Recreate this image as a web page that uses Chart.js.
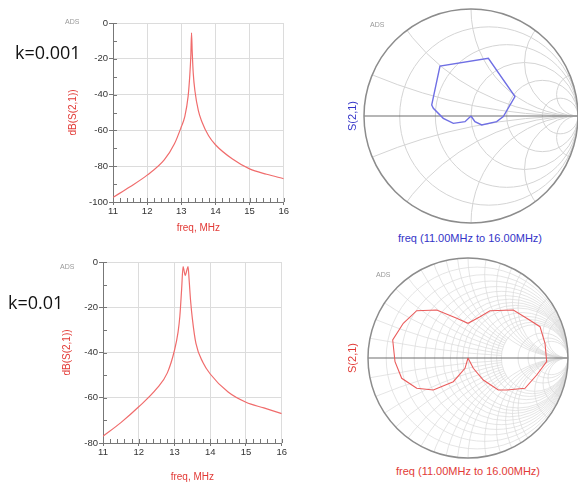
<!DOCTYPE html>
<html>
<head>
<meta charset="utf-8">
<script src="https://cdn.jsdelivr.net/npm/chart.js@4"></script>
<style>
  html, body { margin: 0; padding: 0; overflow: hidden; background: #fff; }
  #page { position: relative; width: 578px; height: 482px; }
  canvas { position: absolute; }
  .lbl { position: absolute; white-space: nowrap; font-family: "Liberation Sans", Arial, sans-serif; }
  .k { font-family: "Open Sans", sans-serif; font-size: 18px; color: #111; line-height: 24px; }
  .ads { font-size: 7px; color: #999; }
  .s21 { font-size: 11px; transform: translate(-50%, -50%) rotate(-90deg); }
  .sweep { font-size: 11px; transform: translateX(-50%); }
</style>
</head>
<body>
<div id="page">
  <canvas id="dbLow" width="230" height="219" style="left:60px; top:15px"></canvas>
  <canvas id="smithLow" width="218" height="218" style="left:362px; top:7px"></canvas>
  <canvas id="dbHigh" width="238" height="233" style="left:50px; top:250px"></canvas>
  <canvas id="smithHigh" width="204" height="204" style="left:366px; top:256px"></canvas>

  <div class="lbl k" style="left:15px; top:40px">k=0.001</div>
  <div class="lbl k" style="left:8px; top:290px">k=0.01</div>
  <div class="lbl ads" style="left:65px; top:18px">ADS</div>
  <div class="lbl ads" style="left:370px; top:21px">ADS</div>
  <div class="lbl ads" style="left:60px; top:263px">ADS</div>
  <div class="lbl ads" style="left:376px; top:271px">ADS</div>
  <div class="lbl s21" style="left:352px; top:116px; color:#3434c8">S(2,1)</div>
  <div class="lbl s21" style="left:352px; top:358px; color:#e23a36">S(2,1)</div>
  <div class="lbl sweep" style="left:470px; top:232px; color:#3434c8">freq (11.00MHz to 16.00MHz)</div>
  <div class="lbl sweep" style="left:468px; top:465px; color:#e23a36">freq (11.00MHz to 16.00MHz)</div>
</div>

<script>
// k = 0.001 : dB(S21) vs frequency (MHz)
const freqLow = [11, 11.5, 12, 12.5, 12.8, 13, 13.1, 13.2, 13.25, 13.28, 13.3, 13.32, 13.35, 13.4, 13.5, 13.6, 13.8, 14, 14.5, 15, 15.5, 16];
const dbLow   = [-97.4, -91.5, -85, -76.5, -67.5, -58, -52.5, -41, -29, -18, -5.5, -16, -28, -38, -49, -55, -63, -68, -76, -81.5, -84.5, -87];

// k = 0.01 : dB(S21) vs frequency (MHz)
const freqHigh = [11, 11.5, 12, 12.5, 12.8, 13, 13.1, 13.15, 13.2, 13.24, 13.27, 13.3, 13.34, 13.38, 13.41, 13.45, 13.5, 13.6, 13.8, 14, 14.5, 15, 15.5, 16];
const dbHigh   = [-77, -71, -64, -56, -49, -39, -31, -24, -12, -2, -4, -6, -4, -2, -8, -17, -25, -36, -44.5, -49.5, -57.5, -62, -64.5, -67];

// S21 traces on the Smith chart (real, imaginary)
const smithLowRe = [0, -0.056, -0.165, -0.259, -0.352, -0.367, -0.29, 0.162, 0.411, 0.302, 0.24, 0.1, 0.037, 0];
const smithLowIm = [0, -0.053, -0.069, -0.022, 0.072, 0.103, 0.467, 0.539, 0.181, -0.006, -0.053, -0.084, -0.053, 0];

const smithHighRe = [0, -0.03, -0.147, -0.347, -0.513, -0.663, -0.73, -0.753, -0.647, -0.513, -0.313, -0.113, 0, 0.12, 0.22, 0.453, 0.587, 0.72, 0.77, 0.787, 0.687, 0.57, 0.387, 0.303, 0.153, 0.053, 0];
const smithHighIm = [0, -0.103, -0.237, -0.32, -0.303, -0.203, -0.037, 0.18, 0.347, 0.473, 0.48, 0.397, 0.347, 0.413, 0.473, 0.48, 0.397, 0.313, 0.147, -0.037, -0.17, -0.303, -0.32, -0.32, -0.22, -0.103, 0];

// Smith chart grid values
const sparseR = [0.2, 0.5, 1, 2, 5];
const sparseX = [0.2, 0.5, 1, 2, 5];
const denseR = [0.1, 0.2, 0.3, 0.4, 0.5, 0.6, 0.7, 0.8, 0.9, 1, 1.2, 1.4, 1.6, 1.8, 2, 3, 4, 5];
const denseX = [0.1, 0.2, 0.3, 0.4, 0.5, 0.6, 0.7, 0.8, 0.9, 1, 1.2, 1.4, 1.6, 1.8, 2, 3, 4, 5];

const FONT = "'Liberation Sans', Arial, sans-serif";
const RED = '#e23a36';

// small inside tick marks between the labelled ones
const minorTicks = {
  id: 'minorTicks',
  afterDraw(chart, args, opts) {
    const { ctx, chartArea: a, scales: { x, y } } = chart;
    ctx.save();
    ctx.strokeStyle = '#777';
    ctx.lineWidth = 1;
    ctx.beginPath();
    const nx = Math.round((x.max - x.min) / opts.xStep);
    for (let i = 0; i <= nx; i++) {
      const px = Math.round(x.getPixelForValue(x.min + i * opts.xStep)) + 0.5;
      ctx.moveTo(px, a.bottom);
      ctx.lineTo(px, a.bottom - 4);
    }
    const ny = Math.round((y.max - y.min) / opts.yStep);
    for (let i = 0; i <= ny; i++) {
      const py = Math.round(y.getPixelForValue(y.min + i * opts.yStep)) + 0.5;
      ctx.moveTo(a.left, py);
      ctx.lineTo(a.left + 4, py);
    }
    ctx.stroke();
    ctx.restore();
  }
};

// impedance grid drawn through the chart's own scales
const smithGrid = {
  id: 'smithGrid',
  beforeDatasetsDraw(chart, args, opts) {
    const { ctx, scales: { x, y } } = chart;
    const cx = x.getPixelForValue(0), cy = y.getPixelForValue(0);
    const R = x.getPixelForValue(1) - cx;
    ctx.save();
    ctx.beginPath();
    ctx.arc(cx, cy, R, 0, 2 * Math.PI);
    ctx.clip();
    ctx.strokeStyle = opts.color;
    ctx.lineWidth = opts.width;
    opts.r.forEach(r => {
      ctx.beginPath();
      ctx.arc(cx + R * r / (1 + r), cy, R / (1 + r), 0, 2 * Math.PI);
      ctx.stroke();
    });
    opts.x.forEach(xv => {
      ctx.save();
      // fine reactance arcs stop at the r = cutR circle, like the ADS dense grid
      if (opts.cutR && xv < 1) {
        const rc = opts.cutR;
        ctx.beginPath();
        ctx.arc(cx, cy, R, 0, 2 * Math.PI);
        ctx.moveTo(cx + R, cy);
        ctx.arc(cx + R * rc / (1 + rc), cy, R / (1 + rc), 0, 2 * Math.PI);
        ctx.clip('evenodd');
      }
      [1, -1].forEach(s => {
        ctx.beginPath();
        ctx.arc(cx + R, cy - s * R / xv, R / xv, 0, 2 * Math.PI);
        ctx.stroke();
      });
      ctx.restore();
    });
    ctx.restore();

    ctx.save();
    ctx.strokeStyle = '#6e6e6e';
    ctx.lineWidth = 1.2;
    ctx.beginPath();
    ctx.moveTo(cx - R, cy);
    ctx.lineTo(cx + R, cy);
    ctx.stroke();
    ctx.strokeStyle = '#8c8c8c';
    ctx.lineWidth = 1.5;
    ctx.beginPath();
    ctx.arc(cx, cy, R, 0, 2 * Math.PI);
    ctx.stroke();
    ctx.restore();
  }
};

function dbChart(id, freq, db, yMin, pad, axisW, axisH, titlePad) {
  return new Chart(document.getElementById(id), {
    type: 'line',
    data: {
      datasets: [{
        data: freq.map((f, i) => ({ x: f, y: db[i] })),
        borderColor: '#f06c6c',
        borderWidth: 1.2,
        pointRadius: 0,
        cubicInterpolationMode: 'monotone'
      }]
    },
    options: {
      responsive: false,
      animation: false,
      layout: { padding: pad },
      plugins: { legend: { display: false }, tooltip: { enabled: false }, minorTicks: { xStep: 0.2, yStep: 10 } },
      scales: {
        x: {
          type: 'linear', min: 11, max: 16,
          afterFit: s => { s.height = axisH; },
          ticks: { stepSize: 1, color: '#333', font: { family: FONT, size: 9.5 }, padding: 1 },
          grid: { color: '#dcdcdc', tickLength: 3, tickColor: '#777' },
          border: { color: '#777' },
          title: { display: true, text: 'freq, MHz', color: RED, font: { family: FONT, size: 10 }, padding: 0 }
        },
        y: {
          min: yMin, max: 0,
          afterFit: s => { s.width = axisW; },
          ticks: { stepSize: 20, color: '#333', font: { family: FONT, size: 9.5 }, padding: 1 },
          grid: { color: '#dcdcdc', tickLength: 4, tickColor: '#777' },
          border: { color: '#777' },
          title: { display: true, text: 'dB(S(2,1))', color: RED, font: { family: FONT, size: 10 }, padding: { top: titlePad, bottom: 0 } }
        }
      }
    },
    plugins: [minorTicks]
  });
}

function smithChart(id, re, im, color, width, gridR, gridX, gridColor, gridWidth, cutR) {
  return new Chart(document.getElementById(id), {
    type: 'scatter',
    data: {
      datasets: [{
        data: re.map((v, i) => ({ x: v, y: im[i] })),
        showLine: true,
        borderColor: color,
        borderWidth: width,
        pointRadius: 0,
        tension: 0
      }]
    },
    options: {
      responsive: false,
      animation: false,
      layout: { padding: 2 },
      plugins: {
        legend: { display: false }, tooltip: { enabled: false },
        smithGrid: { r: gridR, x: gridX, color: gridColor, width: gridWidth, cutR: cutR }
      },
      scales: {
        x: { type: 'linear', min: -1, max: 1, display: false },
        y: { type: 'linear', min: -1, max: 1, display: false }
      }
    },
    plugins: [smithGrid]
  });
}

dbChart('dbLow', freqLow, dbLow, -100, { top: 8, right: 5, left: 0, bottom: 0 }, 53, 32, 7);
dbChart('dbHigh', freqHigh, dbHigh, -80, { top: 12, right: 5, left: 0, bottom: 0 }, 53, 40, 11);
smithChart('smithLow', smithLowRe, smithLowIm, '#6f6fe4', 1.4, sparseR, sparseX, '#d4d4d4', 1, 0);
smithChart('smithHigh', smithHighRe, smithHighIm, '#ea5c5c', 1.1, denseR, denseX, '#dadada', 0.7, 2);
</script>
</body>
</html>
